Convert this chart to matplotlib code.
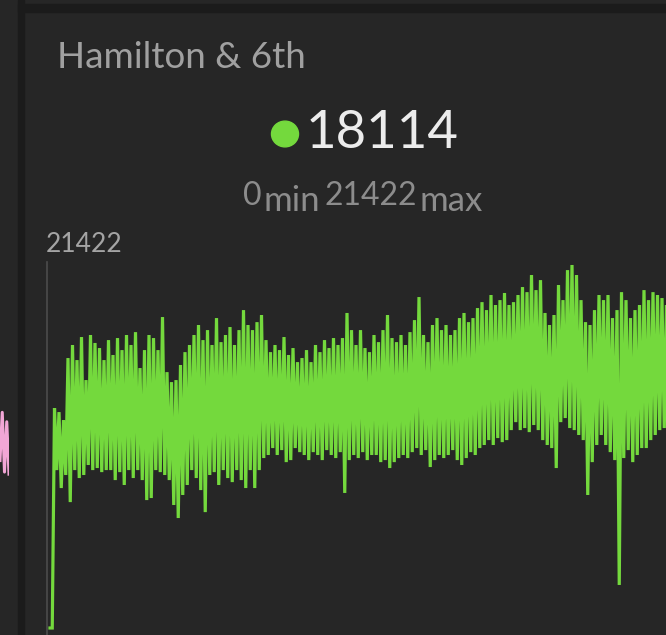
import numpy as np
import matplotlib.pyplot as plt
from matplotlib.patches import Rectangle, Circle

# panel values
title = "Hamilton & 6th"
current = 18114
vmin = 0
vmax = 21422

# upper and lower turning points of the oscillating series
highs = [12980, 12740, 12270, 15930, 16700, 15810, 17170, 14630, 17290, 16820,
         16520, 15810, 16990, 16110, 17110, 16400, 17290, 16700, 17460, 15340,
         16400, 17290, 17110, 16400, 18350, 15100, 14510, 14630, 15520, 16280,
         16700, 17290, 17880, 16990, 17580, 16700, 18290, 16870, 17290, 17760,
         16700, 17580, 18760, 17880, 17580, 18050, 18470, 16990, 16280, 16700,
         16400, 17170, 16110, 16520, 15690, 15930, 16400, 15690, 16700, 16280,
         16990, 16520, 17110, 16700, 17110, 18590, 17580, 16700, 17580, 16520,
         16280, 17290, 16870, 17580, 18470, 17110, 16870, 17290, 16700, 17460,
         18170, 19530, 17290, 16870, 17880, 18290, 17580, 17880, 17290, 17580,
         18290, 18590, 18050, 18290, 18880, 19230, 18760, 19650, 19060, 19350,
         19770, 19060, 19230, 19650, 20120, 19820, 20830, 19940, 20530, 18590,
         17880, 18470, 20240, 19350, 21120, 21422, 20830, 19350, 18050, 17880,
         18760, 19650, 19350, 19650, 18290, 18760, 19820, 19350, 18290, 18760,
         19060, 19940, 19350, 19820, 19650, 19470, 19060]
lows = [9320, 8260, 9030, 7430, 9320, 8850, 9030, 9620, 9320, 9440,
        9200, 9320, 9320, 8730, 9200, 8440, 9320, 8850, 9320, 8730,
        7550, 7670, 9320, 9200, 9030, 8730, 7260, 6490, 7850, 8440,
        9320, 8850, 8140, 6840, 9030, 9200, 8440, 9320, 8850, 8610,
        9320, 8730, 8260, 9320, 8260, 9320, 10030, 10210, 10620, 10210,
        10500, 9790, 9910, 10620, 10380, 10210, 9910, 10380, 10210, 9910,
        10500, 10210, 10030, 10380, 7970, 9910, 10210, 10030, 10380, 9910,
        10210, 10210, 9790, 9910, 9440, 9790, 10030, 10210, 10030, 10380,
        10620, 10210, 10500, 9500, 9910, 10210, 10030, 10210, 10500, 9910,
        9620, 10030, 10380, 10210, 10620, 10800, 11090, 10800, 11210, 10970,
        11090, 11680, 12150, 11680, 11800, 11560, 11980, 11680, 11090, 10800,
        10620, 9440, 12150, 12390, 11800, 11680, 11390, 11090, 7850, 9790,
        10800, 11390, 10800, 10380, 9910, 2540, 10030, 10500, 9790, 10210,
        10620, 10620, 11090, 11390, 11680, 11800, 11560]
start_vals = [0, 0]

# neighbour panel (pink) edge visible at the left
pink_vals = [5200, 9800, 4100, 8900, 3900]

series = list(start_vals)
for h, l in zip(highs, lows):
    series += [h, l]
series = np.array(series)

W, H = 666, 635
BG = '#262626'
BORDER = '#1b1b1b'
GREEN = '#74d93d'
PINK = '#f2a6d6'


def fx(px):
    return px / W


def fy(py):
    return 1 - py / H


fig = plt.figure(figsize=(W / 100, H / 100), dpi=100, facecolor=BG)

# panel borders
fig.patches.append(Rectangle((fx(18), 0), fx(6), 1, transform=fig.transFigure,
                             color=BORDER, zorder=0))
fig.patches.append(Rectangle((fx(18), fy(12)), 1, 8 / H, transform=fig.transFigure,
                             color=BORDER, zorder=0))

# pink neighbour
axp = fig.add_axes([0, fy(515), fx(9), (515 - 405) / H])
axp.plot(range(len(pink_vals)), pink_vals, color=PINK, lw=2.2)
axp.set_ylim(0, 10500)
axp.set_xlim(0, len(pink_vals) - 1)
axp.axis('off')

# main chart
step = 2.25
x0 = -3 / step
x1 = (666 - 50) / step
ax = fig.add_axes([fx(47), 0, 1 - fx(47), (635 - 262) / H])
ax.set_facecolor('none')
ax.plot(np.arange(len(series)), series, color=GREEN, lw=2.3, solid_joinstyle='miter')
ax.set_xlim(x0, x1)
ax.set_ylim(-413, vmax + 3 * 59)
for s in ['top', 'right', 'bottom']:
    ax.spines[s].set_visible(False)
ax.spines['left'].set_color('#4c4c4c')
ax.spines['left'].set_linewidth(1.2)
ax.set_xticks([])
ax.set_yticks([])

font = ['Lato', 'DejaVu Sans']
fig.text(fx(57), fy(58), title, color='#a0a0a0', fontsize=26.5, family=font, va='center', ha='left')

fig.patches.append(Circle((fx(285), fy(134)), 13.5 / W, transform=fig.transFigure,
                          color=GREEN, zorder=3))
fig.text(fx(306), fy(134), str(current), color='#ececec', fontsize=38, family=font,
         va='center', ha='left')

fig.text(fx(243), fy(205), str(vmin), color='#8c8c8c', fontsize=23, family=font,
         va='baseline', ha='left')
fig.text(fx(264), fy(211), 'min', color='#8c8c8c', fontsize=25, family=font,
         va='baseline', ha='left')
fig.text(fx(325), fy(205), str(vmax), color='#8c8c8c', fontsize=23, family=font,
         va='baseline', ha='left')
fig.text(fx(420), fy(211), 'max', color='#8c8c8c', fontsize=25, family=font,
         va='baseline', ha='left')

fig.text(fx(46), fy(245), str(vmax), color='#a4a4a4', fontsize=19, family=font,
         va='center', ha='left')

fig.savefig('out.png', dpi=100, facecolor=BG)
